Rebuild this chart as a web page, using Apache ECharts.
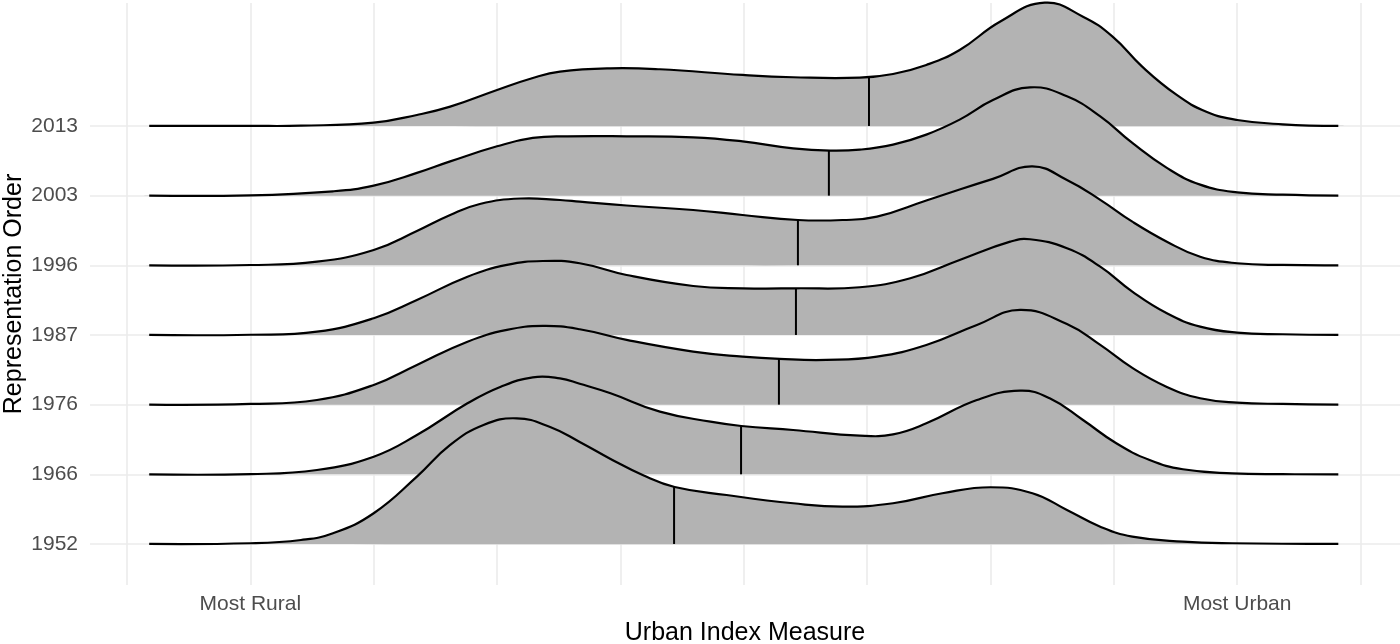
<!DOCTYPE html>
<html lang="en">
  <head>
    <meta charset="UTF-8" />
    <title>Urban Index ridgelines</title>
    <script src="https://cdn.jsdelivr.net/npm/echarts@6/dist/echarts.min.js"></script>
    <style>
      body { margin: 0; background: #fff; }
      .echarts { width: 1400px; height: 644px; }
    </style>
  </head>
  <body>
    <div class="echarts"></div>
    <script>
      // rows, bottom to top
      const years = ['1952', '1966', '1976', '1987', '1996', '2003', '2013']

      // density curves: [urban index, height above the row baseline]
      const ridge1952 = [[-0.82, 0], [0, 0.01], [0.41, 0.057], [0.67, 0.154], [1.0, 0.441], [1.35, 0.966], [1.62, 1.421], [1.89, 1.708], [2.16, 1.804], [2.43, 1.679], [2.67, 1.464], [2.92, 1.22], [3.18, 0.99], [3.44, 0.818], [3.86, 0.703], [4.4, 0.584], [4.8, 0.535], [5.21, 0.584], [5.61, 0.728], [6.0, 0.814], [6.34, 0.728], [6.62, 0.488], [6.89, 0.248], [7.15, 0.105], [7.56, 0.033], [7.96, 0.01], [8.82, 0]]
      const ridge1966 = [[-0.82, 0], [0, 0.003], [0.54, 0.062], [1.0, 0.253], [1.35, 0.564], [1.76, 1.019], [2.03, 1.257], [2.29, 1.392], [2.51, 1.377], [2.67, 1.3], [2.92, 1.163], [3.32, 0.899], [3.73, 0.755], [3.98, 0.693], [4.4, 0.636], [4.94, 0.554], [5.21, 0.574], [5.48, 0.732], [5.89, 1.066], [6.24, 1.2], [6.48, 1.091], [6.75, 0.779], [7.02, 0.445], [7.29, 0.205], [7.56, 0.072], [7.96, 0.014], [8.37, 0.002], [8.82, 0]]
      const ridge1976 = [[-0.82, 0], [0, 0.01], [0.54, 0.067], [1.0, 0.283], [1.35, 0.57], [1.76, 0.904], [2.08, 1.072], [2.37, 1.13], [2.67, 1.082], [3.05, 0.929], [3.59, 0.761], [3.99, 0.689], [4.29, 0.656], [4.67, 0.642], [5.08, 0.689], [5.48, 0.857], [5.89, 1.144], [6.24, 1.359], [6.62, 1.158], [6.89, 0.857], [7.15, 0.527], [7.43, 0.254], [7.7, 0.092], [8.0, 0.029], [8.37, 0.01], [8.82, 0]]
      const ridge1987 = [[-0.82, 0], [0, 0.003], [0.54, 0.047], [1.0, 0.24], [1.35, 0.502], [1.76, 0.837], [2.08, 1.005], [2.37, 1.062], [2.67, 1.029], [3.05, 0.861], [3.59, 0.703], [3.99, 0.67], [4.42, 0.67], [4.94, 0.685], [5.35, 0.814], [5.75, 1.077], [6.16, 1.339], [6.32, 1.374], [6.62, 1.244], [6.89, 0.98], [7.15, 0.622], [7.43, 0.311], [7.7, 0.119], [8.0, 0.033], [8.37, 0.01], [8.82, 0]]
      const ridge1996 = [[-0.82, 0], [0, 0.004], [0.54, 0.052], [1.0, 0.22], [1.35, 0.492], [1.62, 0.722], [1.86, 0.88], [2.19, 0.959], [2.51, 0.937], [2.67, 0.913], [3.05, 0.858], [3.59, 0.794], [3.99, 0.722], [4.44, 0.65], [4.8, 0.65], [5.08, 0.698], [5.48, 0.93], [5.75, 1.088], [6.02, 1.24], [6.34, 1.42], [6.62, 1.224], [6.89, 0.94], [7.15, 0.626], [7.43, 0.339], [7.7, 0.123], [8.0, 0.029], [8.37, 0.005], [8.82, 0]]
      const ridge2003 = [[-0.82, 0], [0, 0.004], [0.67, 0.062], [1.0, 0.144], [1.35, 0.326], [1.62, 0.492], [2.0, 0.708], [2.29, 0.828], [2.57, 0.851], [3.05, 0.851], [3.59, 0.837], [3.99, 0.779], [4.4, 0.679], [4.7, 0.646], [4.94, 0.66], [5.21, 0.732], [5.48, 0.876], [5.75, 1.091], [6.02, 1.371], [6.32, 1.554], [6.62, 1.425], [6.89, 1.138], [7.15, 0.756], [7.43, 0.398], [7.7, 0.158], [8.0, 0.047], [8.37, 0.014], [8.82, 0]]
      const ridge2013 = [[-0.82, 0], [0, 0.001], [0.41, 0.004], [1.0, 0.047], [1.35, 0.158], [1.62, 0.277], [2.0, 0.517], [2.29, 0.689], [2.51, 0.78], [2.92, 0.828], [3.32, 0.814], [3.99, 0.732], [4.4, 0.699], [4.94, 0.693], [5.21, 0.746], [5.48, 0.876], [5.75, 1.091], [6.08, 1.5], [6.44, 1.77], [6.75, 1.569], [6.99, 1.282], [7.23, 0.851], [7.51, 0.445], [7.75, 0.205], [8.0, 0.086], [8.37, 0.024], [8.82, 0]]
      const ridges = [ridge1952, ridge1966, ridge1976, ridge1987, ridge1996, ridge2003, ridge2013]

      // median of each row
      const medians = [3.435, 3.978, 4.285, 4.423, 4.439, 4.69, 5.015]

      // x gridlines and the two named ticks
      const xGrid = [-1, 0, 1, 2, 3, 4, 5, 6, 7, 8, 9]
      const xTickValues = [0, 8]
      const xTickLabels = ['Most Rural', 'Most Urban']

      const fill = '#b3b3b3'
      const gridColor = '#ebebeb'
      const smoothness = 0.45

      // height of a curve at x (straight line between read points)
      function heightAt(curve, x) {
        for (let k = 1; k < curve.length; k++) {
          const [x0, h0] = curve[k - 1]
          const [x1, h1] = curve[k]
          if (x >= x0 && x <= x1) return h0 + (h1 - h0) * (x - x0) / (x1 - x0)
        }
        return 0
      }

      const myCharts = echarts.init(document.querySelector('.echarts'))

      // gridlines sit behind everything
      const gridSeries = {
        type: 'line',
        data: [],
        silent: true,
        markLine: {
          silent: true,
          z: 1,
          symbol: 'none',
          label: { show: false },
          lineStyle: { color: gridColor, width: 1.6, type: 'solid' },
          data: [
            ...xGrid.map(v => ({ xAxis: v })),
            ...years.map((y, i) => ({ yAxis: i }))
          ]
        }
      }

      // one custom series per row, top row first so lower rows overlap
      const ridgeSeries = []
      for (let i = years.length - 1; i >= 0; i--) {
        const curve = ridges[i]
        const m = medians[i]
        ridgeSeries.push({
          name: years[i],
          type: 'custom',
          silent: true,
          z: 3,
          data: [[m, i]],
          encode: { x: 0, y: 1 },
          renderItem: (params, api) => {
            const pts = curve.map(([x, h]) => api.coord([x, i + h]))
            const mBase = api.coord([m, i])
            const mTop = api.coord([m, i + heightAt(curve, m)])
            return {
              type: 'group',
              children: [
                {
                  type: 'polygon',
                  shape: { points: pts, smooth: smoothness },
                  style: { fill: fill }
                },
                {
                  type: 'line',
                  shape: { x1: mBase[0], y1: mBase[1], x2: mTop[0], y2: mTop[1] },
                  style: { stroke: '#000', lineWidth: 2 }
                },
                {
                  type: 'polyline',
                  shape: { points: pts, smooth: smoothness },
                  style: { stroke: '#000', lineWidth: 2.2, fill: null }
                }
              ]
            }
          }
        })
      }

      const option = {
        animation: false,
        backgroundColor: '#fff',
        grid: { left: 90, right: 0, top: 3, bottom: 59, containLabel: false, outerBoundsMode: 'none' },
        xAxis: {
          type: 'value',
          min: -1.3,
          max: 9.32,
          name: 'Urban Index Measure',
          nameLocation: 'middle',
          nameGap: 36,
          nameMoveOverlap: false,
          nameTextStyle: { fontFamily: 'Liberation Sans', fontSize: 25, color: '#000' },
          axisLine: { show: false },
          axisTick: { show: false },
          splitLine: { show: false },
          axisLabel: {
            customValues: xTickValues,
            formatter: v => xTickLabels[xTickValues.indexOf(v)] || '',
            fontFamily: 'Liberation Sans',
            fontSize: 21,
            color: '#4d4d4d',
            margin: 9
          }
        },
        yAxis: {
          type: 'value',
          min: -0.589,
          max: 7.765,
          name: 'Representation Order',
          nameLocation: 'middle',
          nameRotate: 90,
          nameGap: 63,
          nameMoveOverlap: false,
          nameTextStyle: { fontFamily: 'Liberation Sans', fontSize: 25, color: '#000' },
          axisLine: { show: false },
          axisTick: { show: false },
          splitLine: { show: false },
          axisLabel: {
            customValues: years.map((y, i) => i),
            formatter: v => years[v] || '',
            fontFamily: 'Liberation Sans',
            fontSize: 21,
            color: '#4d4d4d',
            margin: 12
          }
        },
        series: [gridSeries, ...ridgeSeries]
      }
      myCharts.setOption(option)
    </script>
  </body>
</html>
